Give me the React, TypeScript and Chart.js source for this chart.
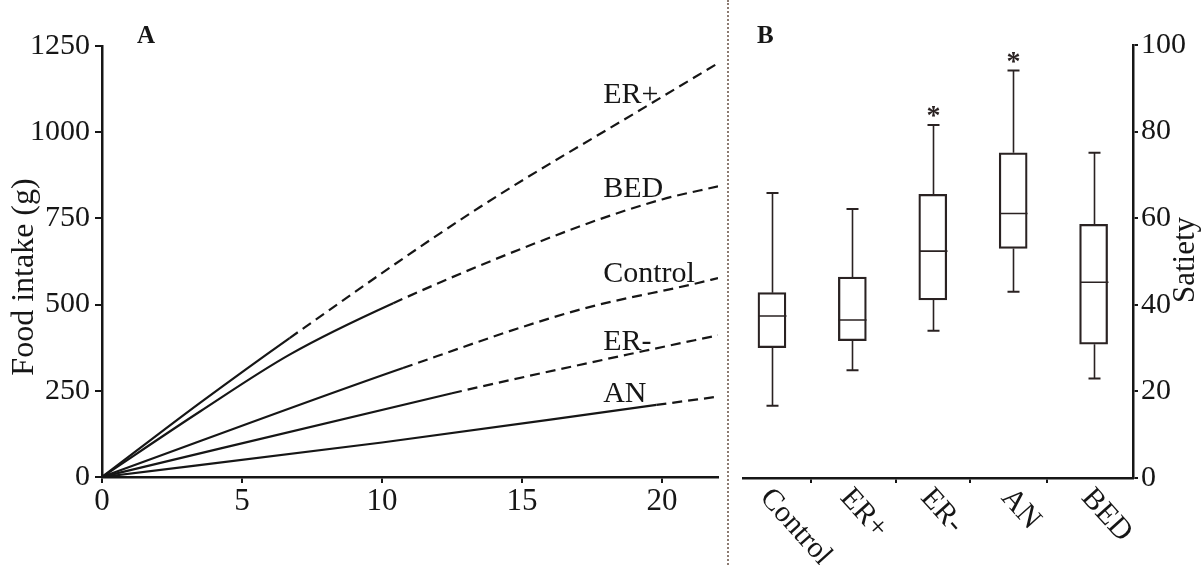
import React, { useEffect, useRef } from 'react';
import { Chart, registerables } from 'chart.js';

Chart.register(...registerables);

const FONT = "'Liberation Serif', 'Times New Roman', serif";
const INK = '#161616';

// ---------- Panel A: cumulative food intake ----------
const seriesNames = ['ER+', 'BED', 'Control', 'ER-', 'AN'];
const erPlusX = [0, 3.5, 6.7, 13.5, 19.5, 22];
const erPlusY = [0, 215, 403, 783, 1078, 1200];
const bedX = [0, 3.5, 6.7, 10.4, 17, 20, 22];
const bedY = [0, 190, 355, 504, 725, 805, 843];
const controlX = [0, 10.75, 17, 21.25, 22];
const controlY = [0, 316, 484, 562, 577];
const erMinusX = [0, 12.5, 19.5, 22];
const erMinusY = [0, 243, 368, 411];
const anX = [0, 10, 19.8, 22];
const anY = [0, 100, 209, 233];
const solidUntil = [6.7, 10.4, 10.75, 12.5, 19.8];
const seriesLabelX = 17.9;
const seriesLabelY = [1084, 812, 565, 368, 217];
const xTicksA = [0, 5, 10, 15, 20];
const yTicksA = [0, 250, 500, 750, 1000, 1250];

// ---------- Panel B: satiety box plots ----------
const groups = ['Control', 'ER+', 'ER-', 'AN', 'BED'];
const whiskerLow = [16.7, 24.9, 34.0, 43.0, 23.0];
const q1 = [30.1, 31.7, 41.1, 53.0, 30.9];
const median = [37.4, 36.5, 52.4, 61.1, 45.2];
const q3 = [42.8, 46.4, 65.5, 75.1, 58.6];
const whiskerHigh = [65.8, 62.1, 81.5, 94.1, 75.1];
const significant = [false, false, true, true, false];
const yTicksB = [0, 20, 40, 60, 80, 100];
const xDividersB = [1.48, 2.54, 3.46, 4.42];

const seriesXY = [
  [erPlusX, erPlusY],
  [bedX, bedY],
  [controlX, controlY],
  [erMinusX, erMinusY],
  [anX, anY],
];

const panelAText = {
  id: 'panelAText',
  afterDraw(chart: any) {
    const { ctx, scales } = chart;
    ctx.save();
    ctx.fillStyle = INK;
    ctx.font = `bold 25px ${FONT}`;
    ctx.textAlign = 'left';
    ctx.textBaseline = 'alphabetic';
    ctx.fillText('A', 137, 43);
    ctx.font = `30px ${FONT}`;
    seriesNames.forEach((n, i) => {
      ctx.fillText(n, scales.x.getPixelForValue(seriesLabelX), scales.y.getPixelForValue(seriesLabelY[i]));
    });
    ctx.font = `32px ${FONT}`;
    ctx.translate(25, 277);
    ctx.rotate(-Math.PI / 2);
    ctx.textAlign = 'center';
    ctx.textBaseline = 'middle';
    ctx.fillText('Food intake (g)', 0, 0);
    ctx.restore();
  },
};

const panelBDraw = {
  id: 'panelBDraw',
  afterDatasetsDraw(chart: any) {
    const { ctx, scales } = chart;
    const xs = scales.x;
    const ys = scales.y;
    ctx.save();
    ctx.strokeStyle = '#2a2222';
    const half = 14;
    const cap = 6;
    groups.forEach((g, i) => {
      const cx = Math.round(xs.getPixelForValue(i + 1)) + 0.5;
      const yl = ys.getPixelForValue(whiskerLow[i]);
      const y1 = ys.getPixelForValue(q1[i]);
      const ym = ys.getPixelForValue(median[i]);
      const y3 = ys.getPixelForValue(q3[i]);
      const yh = ys.getPixelForValue(whiskerHigh[i]);
      ctx.lineWidth = 1.6;
      ctx.beginPath();
      ctx.moveTo(cx, yl); ctx.lineTo(cx, y1);
      ctx.moveTo(cx, y3); ctx.lineTo(cx, yh);
      ctx.moveTo(cx - half, ym); ctx.lineTo(cx + half, ym);
      ctx.stroke();
      ctx.lineWidth = 2;
      ctx.beginPath();
      ctx.moveTo(cx - cap, yl); ctx.lineTo(cx + cap, yl);
      ctx.moveTo(cx - cap, yh); ctx.lineTo(cx + cap, yh);
      ctx.stroke();
      if (significant[i]) {
        ctx.fillStyle = '#2a2222';
        ctx.font = `bold 28px ${FONT}`;
        ctx.textAlign = 'center';
        ctx.textBaseline = 'middle';
        ctx.fillText('*', cx, yh - 12 + 4);
      }
    });
    ctx.restore();
  },
  afterDraw(chart: any) {
    const { ctx, scales } = chart;
    const xs = scales.x;
    const ys = scales.y;
    ctx.save();
    ctx.fillStyle = INK;
    ctx.font = `bold 25px ${FONT}`;
    ctx.textAlign = 'left';
    ctx.textBaseline = 'alphabetic';
    ctx.fillText('B', 757 - 730, 43);
    ctx.font = `30px ${FONT}`;
    const y0 = ys.getPixelForValue(0);
    groups.forEach((g, i) => {
      const cx = xs.getPixelForValue(i + 1);
      ctx.save();
      ctx.translate(cx + 4, y0 + 5);
      ctx.rotate((48 * Math.PI) / 180);
      ctx.textAlign = 'left';
      ctx.textBaseline = 'top';
      ctx.fillText(g, 0, 0);
      ctx.restore();
    });
    ctx.font = `31px ${FONT}`;
    ctx.translate(1186 - 730, 260);
    ctx.rotate(-Math.PI / 2);
    ctx.textAlign = 'center';
    ctx.textBaseline = 'middle';
    ctx.fillText('Satiety', 0, 0);
    ctx.restore();
  },
};

export default function App() {
  const refA = useRef<HTMLCanvasElement>(null);
  const refB = useRef<HTMLCanvasElement>(null);

  useEffect(() => {
    const chartA = new Chart(refA.current as HTMLCanvasElement, {
      type: 'line',
      data: {
        datasets: seriesNames.map((name, i) => ({
          label: name,
          data: seriesXY[i][0].map((x, j) => ({ x, y: seriesXY[i][1][j] })),
          borderColor: INK,
          borderWidth: 2.2,
          pointRadius: 0,
          fill: false,
          cubicInterpolationMode: 'monotone' as const,
          segment: {
            borderDash: (c: any) => (c.p0.parsed.x >= solidUntil[i] - 1e-6 ? [10, 6] : undefined),
          },
        })),
      },
      options: {
        animation: false,
        responsive: false,
        layout: { padding: { left: 0, right: 7, top: 46, bottom: 0 } },
        plugins: { legend: { display: false }, tooltip: { enabled: false } },
        scales: {
          x: {
            type: 'linear',
            min: 0,
            max: 22,
            afterBuildTicks: (s: any) => { s.ticks = xTicksA.map((v) => ({ value: v })); },
            afterFit: (s: any) => { s.height = 88; },
            ticks: { font: { family: FONT, size: 31 }, color: INK, padding: 0, maxRotation: 0, callback: (v: any) => String(v) },
            grid: { drawOnChartArea: false, tickLength: 6, color: INK, lineWidth: 2 },
            border: { color: INK, width: 2.5 },
          },
          y: {
            type: 'linear',
            min: 0,
            max: 1250,
            afterBuildTicks: (s: any) => { s.ticks = yTicksA.map((v) => ({ value: v })); },
            afterFit: (s: any) => { s.width = 102; },
            ticks: { font: { family: FONT, size: 30 }, color: INK, padding: 5, callback: (v: any) => String(v) },
            grid: { drawOnChartArea: false, tickLength: 7, color: INK, lineWidth: 2 },
            border: { color: INK, width: 2.5 },
          },
        },
      },
      plugins: [panelAText],
    });

    const chartB = new Chart(refB.current as HTMLCanvasElement, {
      type: 'bar',
      data: {
        datasets: [
          {
            label: 'Satiety',
            data: groups.map((g, i) => ({ x: i + 1, y: [q1[i], q3[i]] })) as any,
            backgroundColor: 'rgba(0,0,0,0)',
            borderColor: '#2a2222',
            borderWidth: 1.6,
            borderSkipped: false,
            barThickness: 28,
          },
        ],
      },
      options: {
        animation: false,
        responsive: false,
        layout: { padding: { left: 13, right: 0, top: 45, bottom: 0 } },
        plugins: { legend: { display: false }, tooltip: { enabled: false } },
        scales: {
          x: {
            type: 'linear',
            min: 0.64,
            max: 5.49,
            offset: false,
            afterBuildTicks: (s: any) => { s.ticks = xDividersB.map((v) => ({ value: v })); },
            afterFit: (s: any) => { s.height = 87; },
            ticks: { callback: () => '', padding: 0 },
            grid: { drawOnChartArea: false, offset: false, tickLength: 5, color: INK, lineWidth: 2 },
            border: { color: INK, width: 2.5 },
          },
          y: {
            type: 'linear',
            position: 'right',
            min: 0,
            max: 100,
            afterBuildTicks: (s: any) => { s.ticks = yTicksB.map((v) => ({ value: v })); },
            afterFit: (s: any) => { s.width = 68; },
            ticks: { font: { family: FONT, size: 30 }, color: INK, padding: 3, callback: (v: any) => String(v) },
            grid: { drawOnChartArea: false, tickLength: 5, color: INK, lineWidth: 2 },
            border: { color: INK, width: 2.5 },
          },
        },
      },
      plugins: [panelBDraw],
    });

    return () => {
      chartA.destroy();
      chartB.destroy();
    };
  }, []);

  return (
    <div style={{ position: 'fixed', left: 0, top: 0, width: 1201, height: 565, background: '#fff', overflow: 'hidden' }}>
      <canvas ref={refA} width={725} height={565} style={{ position: 'absolute', left: 0, top: 0, width: 725, height: 565 }} />
      <div style={{ position: 'absolute', left: 727, top: 0, height: 565, borderLeft: '2px dotted #8c7b72' }} />
      <canvas ref={refB} width={471} height={565} style={{ position: 'absolute', left: 730, top: 0, width: 471, height: 565 }} />
    </div>
  );
}
